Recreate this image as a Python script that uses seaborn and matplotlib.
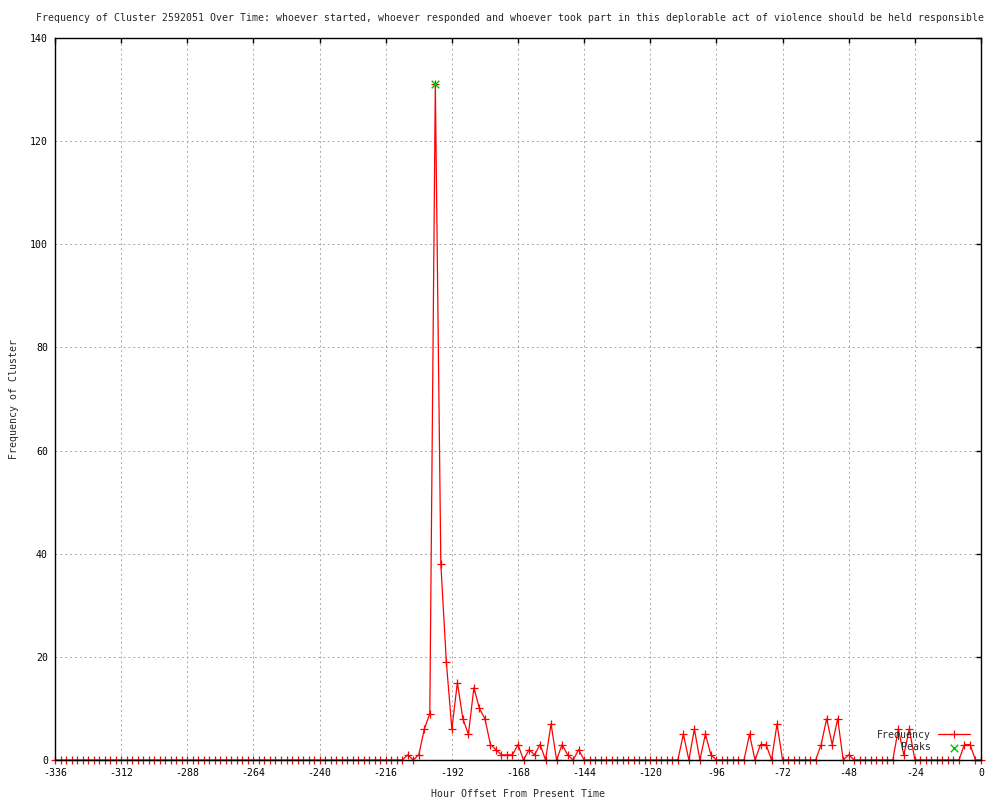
import matplotlib
matplotlib.use("Agg")
import matplotlib.pyplot as plt
import seaborn as sns
import pandas as pd

# hourly offsets (every 2 hours) and cluster frequency, one row per day
hours = list(range(-336, 1, 2))
counts = [
    0, 0, 0, 0, 0, 0, 0, 0, 0, 0, 0, 0,          # -336 .. -314
    0, 0, 0, 0, 0, 0, 0, 0, 0, 0, 0, 0,          # -312 .. -290
    0, 0, 0, 0, 0, 0, 0, 0, 0, 0, 0, 0,          # -288 .. -266
    0, 0, 0, 0, 0, 0, 0, 0, 0, 0, 0, 0,          # -264 .. -242
    0, 0, 0, 0, 0, 0, 0, 0, 0, 0, 0, 0,          # -240 .. -218
    0, 0, 0, 0, 1, 0, 1, 6, 9, 131, 38, 19,      # -216 .. -194
    6, 15, 8, 5, 14, 10, 8, 3, 2, 1, 1, 1,       # -192 .. -170
    3, 0, 2, 1, 3, 0, 7, 0, 3, 1, 0, 2,          # -168 .. -146
    0, 0, 0, 0, 0, 0, 0, 0, 0, 0, 0, 0,          # -144 .. -122
    0, 0, 0, 0, 0, 0, 5, 0, 6, 0, 5, 1,          # -120 .. -98
    0, 0, 0, 0, 0, 0, 5, 0, 3, 3, 0, 7,          # -96 .. -74
    0, 0, 0, 0, 0, 0, 0, 3, 8, 3, 8, 0,          # -72 .. -50
    1, 0, 0, 0, 0, 0, 0, 0, 0, 6, 1, 6,          # -48 .. -26
    0, 0, 0, 0, 0, 0, 0, 0, 0, 3, 3, 0,          # -24 .. -2
    0,                                           # 0
]
peak_hours = [-198]
peak_counts = [131]

x_ticks = list(range(-336, 1, 24))
y_ticks = list(range(0, 141, 20))

title = ("Frequency of Cluster 2592051 Over Time: whoever started, whoever responded "
         "and whoever took part in this deplorable act of violence should be held responsible")

sns.set_style("white")
plt.rcParams["font.family"] = ["DejaVu Sans Mono", "DejaVu Sans"]
plt.rcParams["font.size"] = 7.1
plt.rcParams["axes.unicode_minus"] = False

df = pd.DataFrame({"hour": hours, "count": counts})

fig = plt.figure(figsize=(10, 8), dpi=100)
ax = fig.add_axes([0.055, 0.05, 0.926, 0.9025])

sns.lineplot(data=df, x="hour", y="count", ax=ax, color="red", lw=0.9,
             marker="+", markersize=6, markeredgewidth=0.9, markeredgecolor="red",
             label="Frequency", clip_on=False)
sns.scatterplot(x=peak_hours, y=peak_counts, ax=ax, marker="x", color="#00c000",
                s=30, linewidth=1, label="Peaks", zorder=3, clip_on=False)

ax.set_xlim(-336, 0)
ax.set_ylim(0, 140)
ax.set_xticks(x_ticks)
ax.set_yticks(y_ticks)
ax.tick_params(direction="in", length=3.6, width=1, top=True, right=True,
               colors="black", labelsize=7.1)
ax.tick_params(axis="x", pad=6)
ax.tick_params(axis="y", pad=5)
ax.set_axisbelow(True)
ax.grid(True, color="#a8a8a8", linestyle=(0, (2, 3)), lw=0.7)
for s in ax.spines.values():
    s.set_color("black")
    s.set_linewidth(1)

ax.set_xlabel("Hour Offset From Present Time", labelpad=7.5)
ax.set_ylabel("Frequency of Cluster", labelpad=8)
fig.text(0.51, 0.977, title, ha="center", va="center", fontsize=7.1)

handles, labels = ax.get_legend_handles_labels()
ax.legend(handles, labels, loc="lower right", bbox_to_anchor=(0.997, 0.0),
          markerfirst=False, frameon=False,
          handlelength=3.3, handletextpad=0.7, labelspacing=0.25,
          borderaxespad=0.3, borderpad=0.5, fontsize=7.1)

fig.savefig("out.png", dpi=100)
